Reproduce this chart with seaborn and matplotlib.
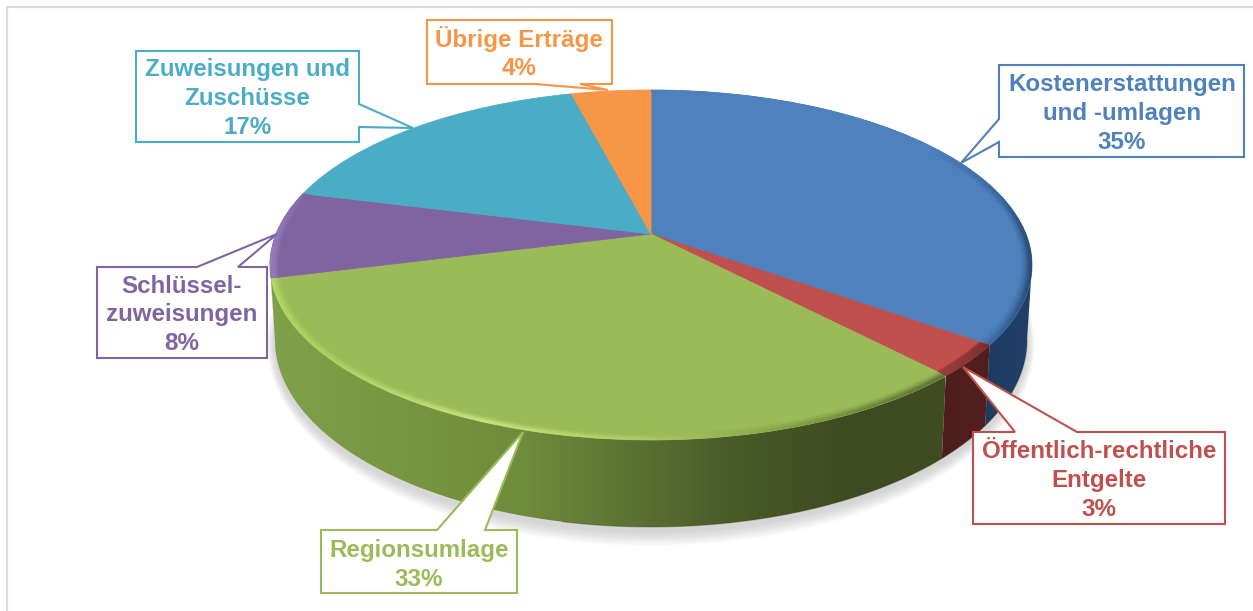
import numpy as np
import matplotlib
matplotlib.use("Agg")
import matplotlib.pyplot as plt
import seaborn as sns
from matplotlib.collections import LineCollection
from matplotlib.colors import LinearSegmentedColormap, to_rgb
from matplotlib.patches import Ellipse, Polygon
from matplotlib.transforms import Transform

# ---- data ----
categories = ["Kostenerstattungen\nund -umlagen", "Öffentlich-rechtliche\nEntgelte", "Regionsumlage",
              "Schlüssel-\nzuweisungen", "Zuweisungen und\nZuschüsse", "Übrige Erträge"]
values = [35, 3, 33, 8, 17, 4]
top_colors = ["#4f81bd", "#c0504d", "#9bbb59", "#8064a2", "#4bacc6", "#f79646"]

# ---- layout of the tilted disc, in pixels ----
CX, APEX_Y = 651, 234
TILT, SCALE_Y, SCALE_X = 0.177, 169.5, 375.0
TOP_C, TOP_R = (651, 265), (381, 175)
BOT_C, BOT_R = (651, 340), (376, 187)
LABEL_FONT = ["Liberation Sans", "DejaVu Sans"]

# box (x0, y0, x1, y1), pointer points, centre of the text
callouts = [
    ((999, 65, 1244, 157), [(999, 119), (961, 163), (999, 142)], (1122, 113.5)),
    ((973, 432, 1225, 524), [(1015, 432), (963, 367), (1077, 432)], (1099, 480.5)),
    ((321, 530, 517, 593), [(437, 530), (523, 432), (485, 530)], (419, 565)),
    ((97, 267, 267, 358), [(197, 267), (277, 234), (238, 267)], (182, 315)),
    ((136, 51, 359, 142), [(359, 104), (413, 128), (359, 127)], (247.5, 98.5)),
    ((427, 20, 612, 84), [(535, 84), (608, 90), (580, 84)], (519, 53)),
]


class DiscProjection(Transform):
    """Perspective view of the unit circle: nearer parts come out larger."""
    input_dims = output_dims = 2
    is_separable = False

    def transform_non_affine(self, xy):
        xy = np.asarray(xy, float)
        w = 1 + TILT * xy[:, 1]
        return np.column_stack([CX + SCALE_X * xy[:, 0] / w, APEX_Y - SCALE_Y * xy[:, 1] / w])


def to_bottom(p):
    return np.column_stack([
        BOT_C[0] + (p[:, 0] - TOP_C[0]) * BOT_R[0] / TOP_R[0],
        BOT_C[1] + (p[:, 1] - TOP_C[1]) * BOT_R[1] / TOP_R[1],
    ])


sns.set_theme(style="white")
palette = sns.color_palette(top_colors)
fig = plt.figure(figsize=(12.53, 6.11), dpi=100, facecolor="white")
ax = fig.add_axes([0, 0, 1, 1])

wedges, _ = ax.pie(values, colors=palette, startangle=90, counterclock=False, radius=1,
                   wedgeprops=dict(linewidth=0.6))
proj = DiscProjection()
for c, w in zip(palette, wedges):
    w.set_transform(proj + ax.transData)
    w.set_edgecolor(c)
    w.set_zorder(3)


def arc(w, r=1.0, n=260):
    t = np.radians(np.linspace(w.theta1, w.theta2, n))
    return proj.transform(np.column_stack([r * np.cos(t), r * np.sin(t)]))


# soft shadow under the disc
for k in range(16, 0, -1):
    ax.add_patch(Ellipse((BOT_C[0], BOT_C[1] + 4), 2 * (BOT_R[0] + k * 0.5), 2 * (BOT_R[1] + k * 0.95),
                         facecolor="#808080", edgecolor="none", alpha=0.018, zorder=1))

# side wall, one clipped gradient per slice
wall_stops = {
    0: [(0, "#1c3557"), (1, "#21406a")],
    1: [(0, "#4c1e1d"), (1, "#521f1e")],
    2: [(0, "#80a04a"), (0.25, "#76933f"), (0.38, "#6f8b3c"), (0.55, "#5a7132"),
        (0.68, "#4a5c29"), (0.85, "#3e4b20"), (1, "#404c20")],
    3: [(0, "#6f5a90"), (1, "#6f5a90")],
}
ranges = {0: (930, 1035), 1: (930, 990), 2: (268, 945), 3: (265, 285)}
for i, stops in wall_stops.items():
    top = arc(wedges[i])
    top = top[top[:, 1] >= TOP_C[1]]
    if len(top) < 2:
        continue
    poly = Polygon(np.vstack([top, to_bottom(top)[::-1]]), closed=True, facecolor="none",
                   edgecolor="none", zorder=2)
    ax.add_patch(poly)
    cmap = LinearSegmentedColormap.from_list(f"w{i}", stops)
    im = ax.imshow(np.linspace(0, 1, 256)[None, :], cmap=cmap, aspect="auto", vmin=0, vmax=1,
                   extent=[ranges[i][0], ranges[i][1], 611, 0], zorder=2, interpolation="bilinear")
    im.set_clip_path(poly)
    # thin dark line along the lower edge, only on the shaded side
    low = to_bottom(top)
    low = low[low[:, 0] > 560]
    if len(low) > 1:
        ax.plot(low[:, 0], low[:, 1], color="#2b3315", alpha=0.3, lw=0.9, zorder=2.1)

# rim of the top face, colour depends on the horizontal position
rim_x = {
    0: ([651, 930, 1000, 1035], ["#4f81bd", "#4f81bd", "#3a689c", "#254870"]),
    1: ([930, 990], ["#a04341", "#7a2f2d"]),
    2: ([268, 330, 480, 640, 780, 930], ["#b6da68", "#add063", "#c7e67d", "#aecd65", "#86a348", "#5c7433"]),
    3: ([265, 310], ["#9a80c0", "#8064a2"]),
}
for i, (xs, cols) in rim_x.items():
    rgb = np.array([to_rgb(c) for c in cols])
    for r in np.linspace(0.975, 0.999, 9):
        alpha = 0.75 * ((r - 0.975) / 0.024) ** 2 + 0.03
        p = arc(wedges[i], r)
        seg = np.stack([p[:-1], p[1:]], axis=1)
        mid = seg.mean(axis=1)[:, 0]
        col = np.column_stack([np.interp(mid, xs, rgb[:, j]) for j in range(3)] + [np.full(len(mid), alpha)])
        lc = LineCollection(seg, colors=col, linewidths=1.5, capstyle="round", zorder=4)
        ax.add_collection(lc)
        lc.set_clip_path(wedges[i])

# callouts
for ((x0, y0, x1, y1), ptr, (tx, ty)), name, val, c in zip(callouts, categories, values, palette):
    # the pointer is inserted into the side of the box it leaves from
    if ptr[0][1] == y0 and ptr[-1][1] == y0:
        pts = [(x0, y0)] + ptr + [(x1, y0), (x1, y1), (x0, y1)]
    elif ptr[0][1] == y1 and ptr[-1][1] == y1:
        pts = [(x0, y0), (x1, y0), (x1, y1)] + ptr[::-1] + [(x0, y1)]
    elif ptr[0][0] == x0:
        pts = [(x0, y0), (x1, y0), (x1, y1), (x0, y1)] + ptr[::-1]
    else:
        pts = [(x0, y0), (x1, y0)] + ptr + [(x1, y1), (x0, y1)]
    ax.add_patch(Polygon(pts, closed=True, facecolor="white", edgecolor=c, lw=1.5,
                         joinstyle="miter", zorder=5))
    ax.text(tx, ty, f"{name}\n{val}%", color=c, ha="center", va="center", fontsize=17.4,
            fontweight="bold", family=LABEL_FONT, linespacing=1.33, zorder=6)

# frame of the page at the left and the top
ax.plot([6.5, 6.5, 1253], [611, 7, 7], color="#dcdcdc", lw=1.6, solid_joinstyle="miter", zorder=0.5)

ax.set_aspect("auto")
ax.set_xlim(0, 1253)
ax.set_ylim(611, 0)
ax.axis("off")
fig.savefig("out.png", dpi=100, facecolor="white")
